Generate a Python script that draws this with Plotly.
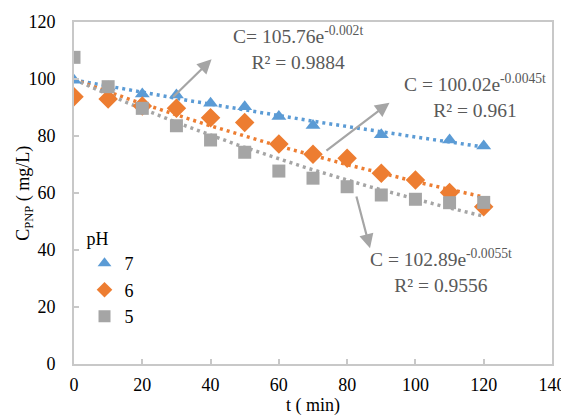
import numpy as np
import plotly.graph_objects as go

# Data
t_ph7 = [0, 10, 20, 30, 40, 50, 60, 70, 90, 110, 120]
c_ph7 = [99.6, 97.2, 94.7, 94.4, 91.5, 90.3, 86.8, 83.7, 80.4, 78.6, 76.5]
t_ph6 = [0, 10, 20, 30, 40, 50, 60, 70, 80, 90, 100, 110, 120]
c_ph6 = [93.8, 93.0, 90.5, 89.7, 86.4, 84.7, 77.2, 73.6, 72.2, 66.9, 64.6, 60.2, 55.2]
t_ph5 = [0, 10, 20, 30, 40, 50, 60, 70, 80, 90, 100, 110, 120]
c_ph5 = [107.6, 97.3, 89.7, 83.6, 78.6, 74.3, 67.7, 65.2, 62.2, 59.3, 57.8, 56.6, 56.7]

labels = ["7", "6", "5"]
colors = ["#5B9BD5", "#ED7D31", "#A5A5A5"]
symbols = ["triangle-up", "diamond", "square"]
series = [(t_ph7, c_ph7), (t_ph6, c_ph6), (t_ph5, c_ph5)]

eq_texts = [
    "C= 105.76e<sup>-0.002t</sup><br>R² = 0.9884",
    "C = 100.02e<sup>-0.0045t</sup><br>R² = 0.961",
    "C = 102.89e<sup>-0.0055t</sup><br>R² = 0.9556",
]

FONT = "Liberation Serif"

fig = go.Figure()

# exponential trendlines (fit on log values, like a spreadsheet trendline)
for (t, c), col in zip(series, colors):
    t_arr = np.array(t, dtype=float)
    b, a = np.polyfit(t_arr, np.log(np.array(c, dtype=float)), 1)
    tt = np.linspace(0, 120, 121)
    fig.add_trace(go.Scatter(
        x=tt, y=np.exp(a + b * tt), mode="lines",
        line=dict(color=col, width=3.5, dash="3px,4px"),
        showlegend=False, hoverinfo="skip"))

for (t, c), col, sym, lab in zip(series, colors, symbols, labels):
    fig.add_trace(go.Scatter(
        x=t, y=c, mode="markers", name=lab,
        marker=dict(color=col, symbol=sym, size=13 if sym != "diamond" else 15,
                    line=dict(width=0))))

arrow_color = "#A5A5A5"
arrows = [
    ((40.3, 106.9), (28.6, 93.2)),
    ((92.4, 91.7), (73.5, 74.5)),
    ((86.7, 40.6), (82.6, 59.3)),
]
for (hx, hy), (tx, ty) in arrows:
    fig.add_annotation(x=hx, y=hy, ax=tx, ay=ty, xref="x", yref="y",
                       axref="x", ayref="y", text="", showarrow=True,
                       arrowhead=2, arrowsize=1.3, arrowwidth=2.2,
                       arrowcolor=arrow_color)

text_pos = [(65.6, 110.9), (117.5, 94.0), (107.5, 32.5)]
for (x, y), txt in zip(text_pos, eq_texts):
    fig.add_annotation(x=x, y=y, xref="x", yref="y", text=txt,
                       showarrow=False, align="center",
                       font=dict(family=FONT, size=19.5, color="#595959"))

# y-axis title as a rotated annotation
fig.add_annotation(x=-0.105, y=0.5, xref="paper", yref="paper",
                   text="C<sub>PNP</sub> ( mg/L)", textangle=-90, showarrow=False,
                   xanchor="center", yanchor="middle",
                   font=dict(family=FONT, size=18, color="#000000"))

# page body has an 8px margin, so the figure is sized/offset to compensate
fig.update_layout(
    width=561, height=408,
    margin=dict(l=66, r=17, t=14, b=52, autoexpand=False),
    paper_bgcolor="white", plot_bgcolor="white",
    font=dict(family=FONT, size=18, color="#000000"),
    legend=dict(title=dict(text="pH", font=dict(family=FONT, size=18, color="#000000")),
                x=0.022, y=0.416, xanchor="left", yanchor="top",
                bgcolor="rgba(0,0,0,0)", tracegroupgap=0,
                font=dict(family=FONT, size=18, color="#000000"),
                itemsizing="constant"),
    showlegend=True,
)

fig.update_xaxes(range=[0, 140], dtick=20, tick0=0, showgrid=False, zeroline=False,
                 showline=True, linecolor="#C8C8C8", linewidth=2, mirror=True,
                 ticks="inside", ticklen=5, tickcolor="#C8C8C8", tickwidth=1.5,
                 automargin=False, ticklabelstandoff=3,
                 tickfont=dict(family=FONT, size=18, color="#000000"),
                 title=dict(text="t ( min)", standoff=6,
                            font=dict(family=FONT, size=18, color="#000000")))
fig.update_yaxes(range=[0, 120], dtick=20, tick0=0, showgrid=False, zeroline=False,
                 showline=True, linecolor="#C8C8C8", linewidth=2, mirror=True,
                 ticks="inside", ticklen=5, tickcolor="#C8C8C8", tickwidth=1.5,
                 ticklabelstandoff=13, automargin=False,
                 tickfont=dict(family=FONT, size=18, color="#000000"))

fig.write_html("out.html")
